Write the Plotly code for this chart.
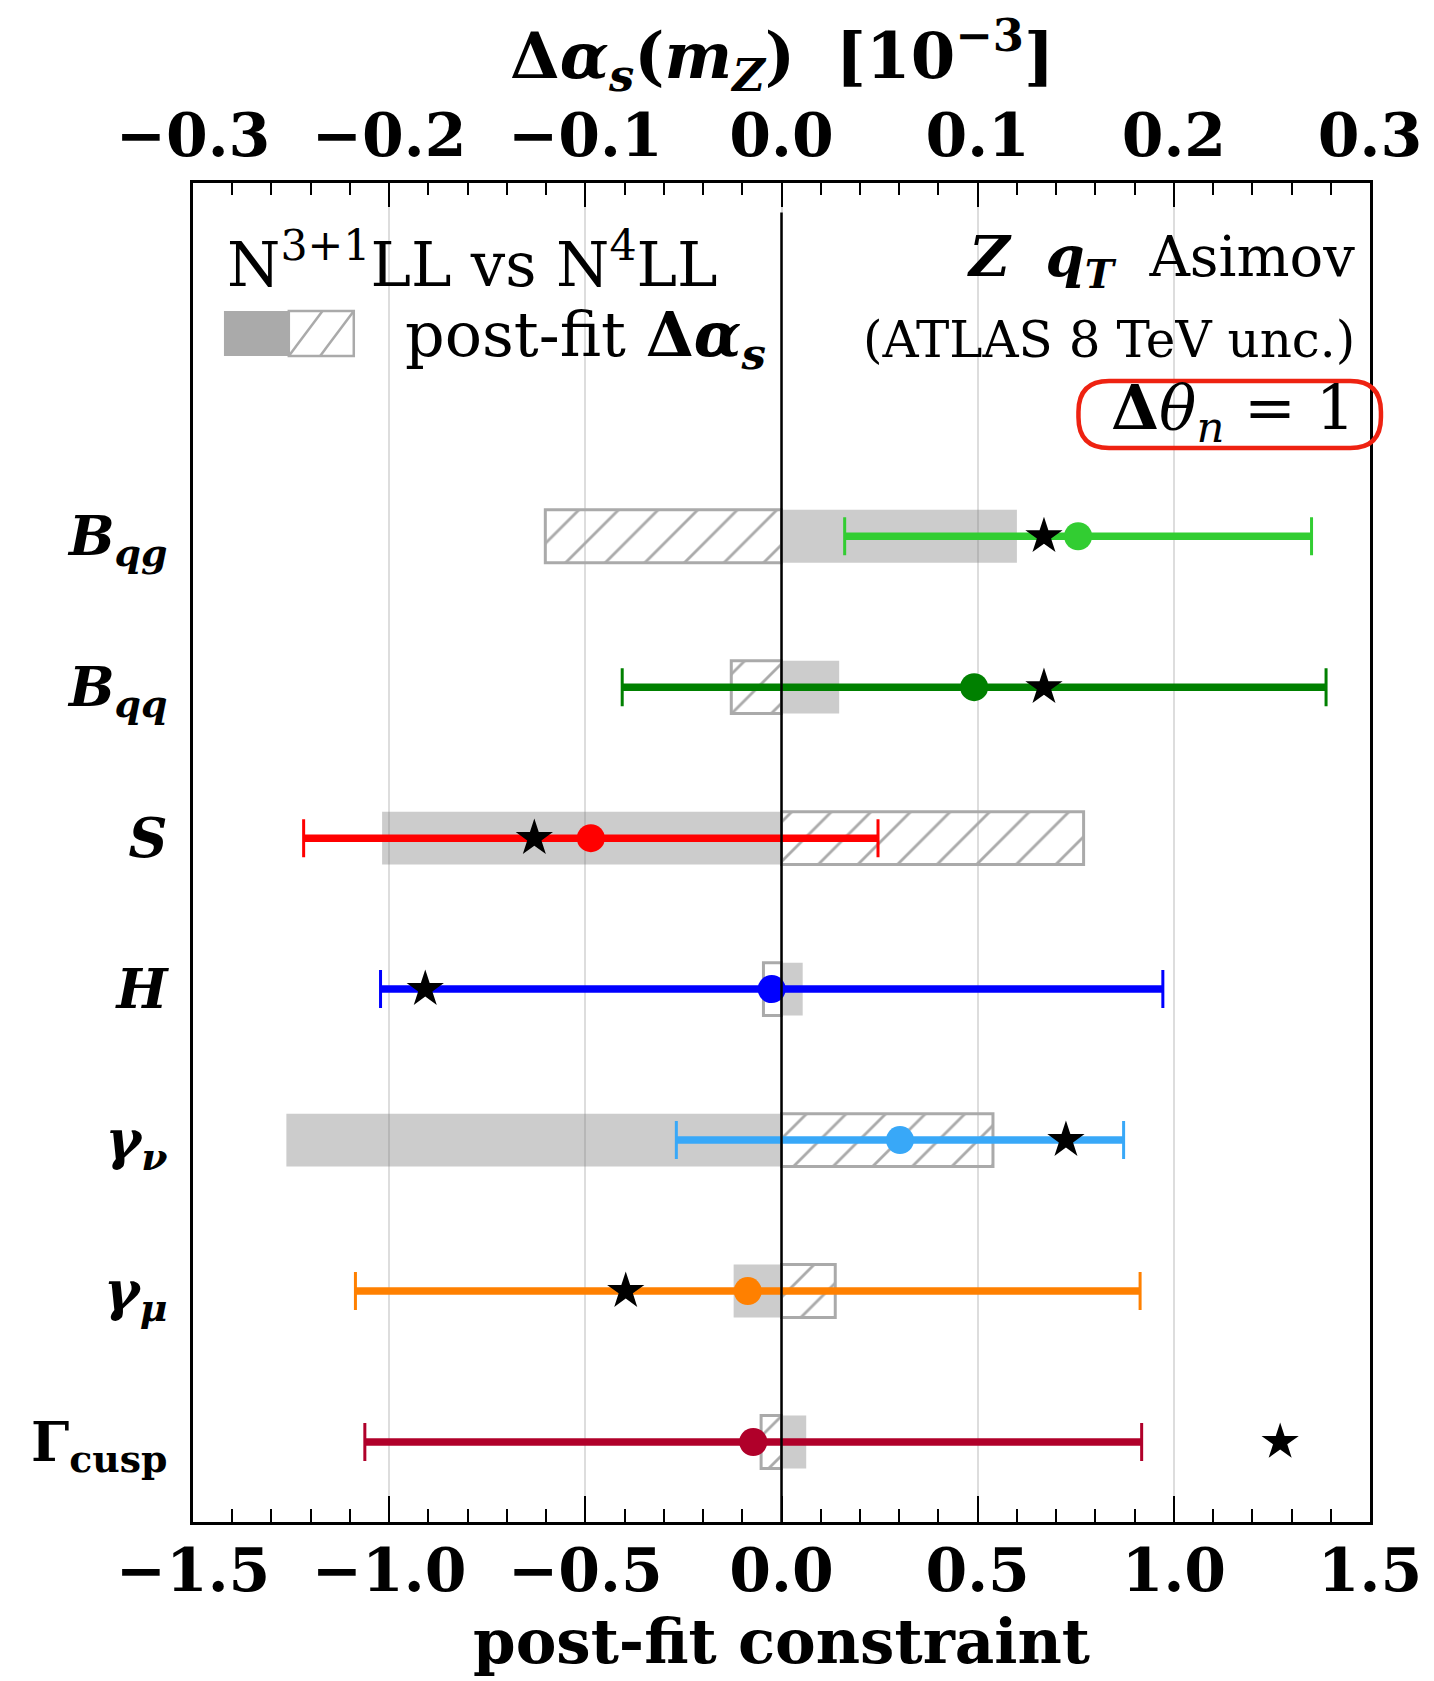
import plotly.graph_objects as go

# ---------------- data (bottom row first) ----------------
params = ["Gamma_cusp", "gamma_mu", "gamma_nu", "H", "S", "B_qq", "B_qg"]
ypos = [0, 1, 2, 3, 4, 5, 6]
param_labels = [
    "<b>Γ</b><sub><b>cusp</b></sub>",
    "<b><i>γ</i></b><sub><b><i>μ</i></b></sub>",
    "<b><i>γ</i></b><sub><b><i>ν</i></b></sub>",
    "<b><i>H</i></b>",
    "<b><i>S</i></b>",
    "<b><i>B</i></b><sub><b><i>qq</i></b></sub>",
    "<b><i>B</i></b><sub><b><i>qg</i></b></sub>",
]
central = [-0.072, -0.086, 0.302, -0.025, -0.486, 0.491, 0.756]
constraint = [0.99, 1.0, 0.57, 0.997, 0.732, 0.897, 0.595]
star_vals = [1.271, -0.397, 0.725, -0.908, -0.630, 0.669, 0.669]
dalpha_solid = [0.063, -0.122, -1.262, 0.054, -1.018, 0.147, 0.600]
dalpha_hatched = [-0.052, 0.137, 0.539, -0.046, 0.770, -0.128, -0.602]
colors = ["#B0002A", "#FF8000", "#38A8F8", "#0000FF", "#FF0000", "#008000", "#32CD32"]

x_ticks = [-1.5, -1.0, -0.5, 0.0, 0.5, 1.0, 1.5]
top_ticks = [-0.3, -0.2, -0.1, 0.0, 0.1, 0.2, 0.3]


def fmt(v):
    s = f"{abs(v):.1f}"
    return ("−" + s) if v < 0 else s


FONT = "DejaVu Serif"
fig = go.Figure()

# post-fit delta alpha_s bars
fig.add_trace(go.Bar(
    x=dalpha_solid, y=ypos, base=0, orientation="h", width=0.35,
    marker=dict(color="rgba(128,128,128,0.4)", line=dict(width=0)),
    showlegend=False, hoverinfo="skip"))
fig.add_trace(go.Bar(
    x=dalpha_hatched, y=ypos, base=0, orientation="h", width=0.35,
    marker=dict(color="rgba(255,255,255,0)",
                line=dict(color="#aaaaaa", width=3),
                pattern=dict(shape="/", fgcolor="#aaaaaa", bgcolor="rgba(255,255,255,0)",
                             size=28, solidity=0.1, fillmode="replace")),
    showlegend=False, hoverinfo="skip"))

# constraint error bars (thick line + thin caps)
for i in range(len(params)):
    fig.add_trace(go.Scatter(
        x=[central[i]], y=[ypos[i]], mode="markers",
        marker=dict(size=1, color="rgba(0,0,0,0)"),
        error_x=dict(type="data", array=[constraint[i]], color=colors[i], thickness=7.5, width=0),
        showlegend=False, hoverinfo="skip"))
    fig.add_trace(go.Scatter(
        x=[central[i]], y=[ypos[i]], mode="markers",
        marker=dict(size=1, color="rgba(0,0,0,0)"),
        error_x=dict(type="data", array=[constraint[i]], color=colors[i], thickness=3, width=19),
        showlegend=False, hoverinfo="skip"))

# central values
fig.add_trace(go.Scatter(
    x=central, y=ypos, mode="markers",
    marker=dict(size=28, color=colors, line=dict(width=0)),
    showlegend=False, hoverinfo="skip"))
# stars
fig.add_trace(go.Scatter(
    x=star_vals, y=ypos, mode="markers",
    marker=dict(symbol="star", size=28, color="black", line=dict(width=0)),
    showlegend=False, hoverinfo="skip"))
# invisible trace to activate the top axis
fig.add_trace(go.Scatter(
    x=top_ticks, y=[ypos[0]] * len(top_ticks), xaxis="x2", mode="markers",
    marker=dict(size=1, color="rgba(0,0,0,0)"), showlegend=False, hoverinfo="skip"))

tickfont = dict(family=FONT, size=60, color="black", weight="bold")

fig.update_layout(
    width=1434, height=1681,
    margin=dict(l=193, r=62, t=183, b=159),
    plot_bgcolor="white", paper_bgcolor="white",
    barmode="overlay", showlegend=False,
    font=dict(family=FONT, color="black"),
    xaxis=dict(
        range=[-1.5, 1.5], tickvals=x_ticks, ticktext=[fmt(v) for v in x_ticks],
        ticks="inside", ticklen=26, tickwidth=2, tickcolor="black",
        minor=dict(ticks="inside", ticklen=13, tickwidth=2, tickcolor="black",
                   dtick=0.1, tick0=0, showgrid=False),
        showgrid=True, gridcolor="#dddddd", gridwidth=2, zeroline=False,
        showline=True, linecolor="black", linewidth=3, mirror=False,
        tickfont=tickfont, ticklabelstandoff=-6,
    ),
    xaxis2=dict(
        overlaying="x", side="top", anchor="y",
        range=[-0.3, 0.3], tickvals=top_ticks, ticktext=[fmt(v) for v in top_ticks],
        ticks="inside", ticklen=24, tickwidth=2, tickcolor="black",
        minor=dict(ticks="inside", ticklen=12, tickwidth=2, tickcolor="black",
                   dtick=0.02, tick0=0, showgrid=False),
        showgrid=False, zeroline=False,
        showline=True, linecolor="black", linewidth=3,
        tickfont=tickfont, ticklabelstandoff=0,
    ),
    yaxis=dict(
        range=[-0.53, 8.34], tickvals=ypos, ticktext=param_labels,
        ticks="", showgrid=False, zeroline=False,
        showline=True, linecolor="black", linewidth=2.5, mirror=True,
        tickfont=dict(family=FONT, size=54, color="black"),
        ticklabelstandoff=12,
    ),
)

# zero line
fig.add_shape(type="line", xref="x", yref="paper", x0=0, x1=0, y0=0, y1=0.978,
              line=dict(color="black", width=2.5), layer="above")

# legend patch
fig.add_shape(type="rect", xref="paper", yref="paper", x0=0.0263, x1=0.0814, y0=0.8708, y1=0.9044,
              fillcolor="#aaaaaa", line=dict(width=0))
fig.add_shape(type="rect", xref="paper", yref="paper", x0=0.0814, x1=0.1366, y0=0.8708, y1=0.9044,
              fillcolor="white", line=dict(color="#aaaaaa", width=2.5))
fig.add_shape(type="line", xref="paper", yref="paper", x0=0.0814, x1=0.1100, y0=0.8708, y1=0.9044,
              line=dict(color="#aaaaaa", width=2.5))
fig.add_shape(type="line", xref="paper", yref="paper", x0=0.1080, x1=0.1366, y0=0.8708, y1=0.9044,
              line=dict(color="#aaaaaa", width=2.5))

# red rounded box
bx0, bx1, by0, by1 = 0.7523, 1.0093, 0.8021, 0.8521
rx, ry = 0.026, 0.023
path = (f"M {bx0+rx},{by0} L {bx1-rx},{by0} Q {bx1},{by0} {bx1},{by0+ry} "
        f"L {bx1},{by1-ry} Q {bx1},{by1} {bx1-rx},{by1} L {bx0+rx},{by1} "
        f"Q {bx0},{by1} {bx0},{by1-ry} L {bx0},{by0+ry} Q {bx0},{by0} {bx0+rx},{by0} Z")
fig.add_shape(type="path", xref="paper", yref="paper", path=path,
              line=dict(color="#EE2211", width=4.5))

fig.add_annotation(xref="paper", yref="paper", x=0.027, y=0.9425, xanchor="left", yanchor="middle",
                   text="N<sup>3+1</sup>LL vs N<sup>4</sup>LL", showarrow=False,
                   font=dict(family=FONT, size=61, color="black"))
fig.add_annotation(xref="paper", yref="paper", x=0.178, y=0.884, xanchor="left", yanchor="middle",
                   text="post-fit <b>Δ</b><b><i>α</i></b><sub><b><i>s</i></b></sub>",
                   showarrow=False, font=dict(family=FONT, size=62, color="black"))
fig.add_annotation(xref="paper", yref="paper", x=0.989, y=0.9425, xanchor="right", yanchor="middle",
                   text="<b><i>Z</i></b>  <b><i>q</i></b><sub><b><i>T</i></b></sub>  Asimov",
                   showarrow=False, font=dict(family=FONT, size=56, color="black"))
fig.add_annotation(xref="paper", yref="paper", x=0.989, y=0.8828, xanchor="right", yanchor="middle",
                   text="(ATLAS 8 TeV unc.)", showarrow=False,
                   font=dict(family=FONT, size=50, color="black"))
fig.add_annotation(xref="paper", yref="paper", x=0.989, y=0.829, xanchor="right", yanchor="middle",
                   text="<b>Δ</b><i>θ</i><sub><i>n</i></sub> = 1", showarrow=False,
                   font=dict(family=FONT, size=62, color="black"))

# axis titles
fig.add_annotation(xref="paper", yref="paper", x=0.5, y=1.095, xanchor="center", yanchor="middle",
                   text="<b>Δ</b><b><i>α</i></b><sub><b><i>s</i></b></sub><b>(</b><b><i>m</i></b><sub><b><i>Z</i></b></sub><b>)</b>  <b>[10</b><sup><b>−3</b></sup><b>]</b>",
                   showarrow=False, font=dict(family=FONT, size=64, color="black"))
fig.add_annotation(xref="paper", yref="paper", x=0.5, y=-0.089, xanchor="center", yanchor="middle",
                   text="<b>post-fit constraint</b>", showarrow=False,
                   font=dict(family=FONT, size=61, color="black"))

fig.write_html("out.html")
